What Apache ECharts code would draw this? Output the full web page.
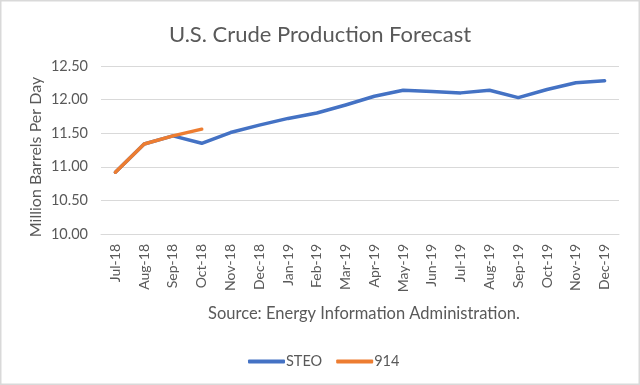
<!DOCTYPE html>
<html><head><meta charset="utf-8">
<script src="https://cdn.jsdelivr.net/npm/echarts@6/dist/echarts.min.js"></script>
<style>html,body{margin:0;padding:0;background:#fff}#c{width:640px;height:385px}</style>
</head><body><div id="c"></div>
<script>
var categories = ['Jul-18','Aug-18','Sep-18','Oct-18','Nov-18','Dec-18','Jan-19','Feb-19','Mar-19','Apr-19','May-19','Jun-19','Jul-19','Aug-19','Sep-19','Oct-19','Nov-19','Dec-19'];
var steo = [10.92, 11.34, 11.46, 11.35, 11.51, 11.62, 11.72, 11.80, 11.92, 12.05, 12.14, 12.12, 12.10, 12.14, 12.03, 12.15, 12.25, 12.28];
var f914 = [10.92, 11.34, 11.46, 11.56, null, null, null, null, null, null, null, null, null, null, null, null, null, null];
var yTicks = [10.00, 10.50, 11.00, 11.50, 12.00, 12.50];

var chart = echarts.init(document.getElementById('c'), null, {renderer:'canvas'});
var txt = '#595959', font = 'Lato';
chart.setOption({
  animation:false,
  textStyle:{fontFamily:font},
  title:{text:'U.S. Crude Production Forecast', left:'center', top:19,
    textStyle:{fontFamily:font, fontSize:22, fontWeight:'normal', color:txt}},
  legend:{top:349, left:243, itemWidth:37, itemHeight:4, itemGap:14,
    icon:'roundRect',
    textStyle:{fontFamily:font, fontSize:14.5, color:txt, padding:[0,0,0,-4]},
    data:['STEO','914']},
  grid:{left:101, right:21, top:66, height:168},
  graphic:[
    {type:'rect', shape:{x:0.5,y:0.5,width:639,height:384}, style:{fill:'none', stroke:'#d9d9d9', lineWidth:2}},
    {type:'text', x:364, y:314, style:{text:'Source: Energy Information Administration.', fontFamily:font, fontSize:16.5, fill:txt, align:'center', verticalAlign:'middle'}},
    {type:'text', x:36, y:157, rotation:Math.PI/2, style:{text:'Million Barrels Per Day', fontFamily:font, fontSize:16, fill:txt, align:'center', verticalAlign:'middle'}}
  ],
  xAxis:{type:'category', data:categories, boundaryGap:true,
    axisLine:{show:true, lineStyle:{color:'#d9d9d9'}}, axisTick:{show:false},
    axisLabel:{rotate:90, fontFamily:font, fontSize:14, color:txt, margin:10}},
  yAxis:{type:'value', min:yTicks[0], max:yTicks[yTicks.length-1], interval:0.5,
    axisLine:{show:false}, axisTick:{show:false},
    splitLine:{lineStyle:{color:'#d9d9d9', width:1}},
    axisLabel:{fontFamily:font, fontSize:14.5, color:txt, margin:13, formatter:function(v){return v.toFixed(2);}}},
  series:[
    {name:'STEO', type:'line', data:steo, symbol:'none', lineStyle:{color:'#4472C4', width:3.5, cap:'round', join:'round'}, itemStyle:{color:'#4472C4'}},
    {name:'914', type:'line', data:f914, symbol:'none', lineStyle:{color:'#ED7D31', width:3.5, cap:'round', join:'round'}, itemStyle:{color:'#ED7D31'}}
  ]
});
</script></body></html>
